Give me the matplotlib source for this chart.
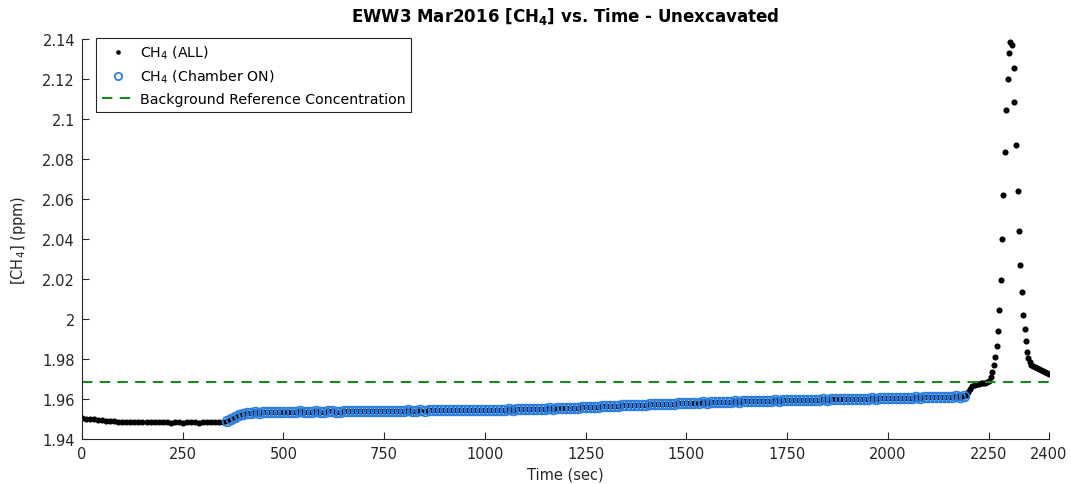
import matplotlib
matplotlib.use('Agg')
import matplotlib.pyplot as plt
import numpy as np

plt.rcParams['font.family'] = ['DejaVu Sans']
plt.rcParams['mathtext.fontset'] = 'dejavusans'
plt.rcParams['mathtext.default'] = 'regular'

# data
# before the chamber is switched on (every 10 s)
t_pre = np.arange(0, 360, 10)
ch4_pre = [1.9503, 1.9502, 1.9501, 1.9499, 1.9497, 1.9494, 1.9492, 1.9490, 1.9488, 1.9486,
           1.9485, 1.9484, 1.9486, 1.9487, 1.9485, 1.9484, 1.9485, 1.9484, 1.9483, 1.9484,
           1.9483, 1.9484, 1.9482, 1.9483, 1.9484, 1.9482, 1.9483, 1.9484, 1.9483, 1.9482,
           1.9483, 1.9484, 1.9483, 1.9485, 1.9484, 1.9486]

# chamber ON (every 10 s)
t_on = np.arange(360, 2200, 10)
ch4_on = [1.9490, 1.9500, 1.9510, 1.9518, 1.9524, 1.9528, 1.9530, 1.9533, 1.9532, 1.9534,
          1.9535, 1.9534, 1.9536, 1.9535, 1.9537, 1.9536, 1.9535, 1.9537, 1.9538, 1.9536,
          1.9535, 1.9537, 1.9538, 1.9536, 1.9537, 1.9539, 1.9538, 1.9536, 1.9537, 1.9538,
          1.9539, 1.9538, 1.9540, 1.9539, 1.9538, 1.9540, 1.9541, 1.9539, 1.9540, 1.9541,
          1.9540, 1.9542, 1.9541, 1.9540, 1.9542, 1.9543, 1.9541, 1.9542, 1.9543, 1.9542,
          1.9543, 1.9544, 1.9546, 1.9544, 1.9543, 1.9545, 1.9544, 1.9543, 1.9545, 1.9544,
          1.9545, 1.9544, 1.9546, 1.9545, 1.9544, 1.9546, 1.9547, 1.9545, 1.9546, 1.9547,
          1.9548, 1.9547, 1.9549, 1.9548, 1.9550, 1.9549, 1.9551, 1.9550, 1.9552, 1.9551,
          1.9553, 1.9552, 1.9554, 1.9555, 1.9554, 1.9556, 1.9557, 1.9556, 1.9558, 1.9559,
          1.9560, 1.9561, 1.9562, 1.9563, 1.9564, 1.9565, 1.9566, 1.9567, 1.9568, 1.9569,
          1.9570, 1.9569, 1.9571, 1.9572, 1.9571, 1.9573, 1.9574, 1.9573, 1.9575, 1.9576,
          1.9577, 1.9576, 1.9578, 1.9579, 1.9578, 1.9580, 1.9581, 1.9582, 1.9583, 1.9582,
          1.9584, 1.9585, 1.9584, 1.9586, 1.9587, 1.9586, 1.9588, 1.9587, 1.9589, 1.9588,
          1.9590, 1.9589, 1.9591, 1.9590, 1.9592, 1.9591, 1.9593, 1.9592, 1.9594, 1.9593,
          1.9594, 1.9595, 1.9594, 1.9596, 1.9595, 1.9597, 1.9596, 1.9597, 1.9598, 1.9597,
          1.9598, 1.9599, 1.9598, 1.9600, 1.9599, 1.9601, 1.9600, 1.9602, 1.9601, 1.9602,
          1.9603, 1.9602, 1.9604, 1.9603, 1.9605, 1.9604, 1.9606, 1.9605, 1.9607, 1.9606,
          1.9607, 1.9608, 1.9607, 1.9609, 1.9608, 1.9610, 1.9609, 1.9611, 1.9610, 1.9612,
          1.9611, 1.9613, 1.9612, 1.9614]

# after the chamber, rise and the spike
t_post = [2195, 2200, 2205, 2210, 2215, 2220, 2225, 2230, 2235, 2240, 2245, 2250,
          2256, 2259, 2263, 2265, 2270, 2274, 2276, 2280, 2282, 2286, 2290, 2293,
          2298, 2301, 2304, 2308, 2312, 2314, 2319, 2323, 2325, 2329, 2333, 2336,
          2340, 2342, 2346, 2349, 2352, 2356, 2360, 2365, 2370, 2375, 2380, 2385,
          2390, 2395, 2400]
ch4_post = [1.9620, 1.9635, 1.9652, 1.9665, 1.9671, 1.9674, 1.9676, 1.9678, 1.9679, 1.9681, 1.9684, 1.9690,
            1.9710, 1.9733, 1.9770, 1.9810, 1.9867, 1.9939, 2.0045, 2.0197, 2.0400, 2.0622, 2.0837, 2.1043,
            2.1202, 2.1330, 2.1387, 2.1370, 2.1255, 2.1085, 2.0868, 2.0640, 2.0438, 2.0270, 2.0137, 2.0020,
            1.9950, 1.9890, 1.9837, 1.9805, 1.9785, 1.9772, 1.9765, 1.9760, 1.9755, 1.9750, 1.9746, 1.9742,
            1.9737, 1.9732, 1.9726]

background = 1.9684

t_all = np.concatenate([t_pre, t_on, t_post])
ch4_all = np.concatenate([ch4_pre, ch4_on, ch4_post])

xticks = [0, 250, 500, 750, 1000, 1250, 1500, 1750, 2000, 2250, 2400]
yticks = [1.94, 1.96, 1.98, 2.0, 2.02, 2.04, 2.06, 2.08, 2.1, 2.12, 2.14]

fig = plt.figure(figsize=(10.71, 4.85), dpi=100)
ax = fig.add_axes([0.0766, 0.0928, 0.9029, 0.8247])

ax.plot(t_all, ch4_all, 'o', color='black', ms=4.4, mew=0, label='CH$_4$ (ALL)')
ax.plot(t_on, ch4_on, 'o', mfc='none', mec='#2a7fe0', ms=7, mew=1.3,
        label='CH$_4$ (Chamber ON)')
ax.axhline(background, color='#1a8a1a', ls=(0, (5, 3.5)), lw=1.5,
           label='Background Reference Concentration')

ax.set_xlim(0, 2400)
ax.set_ylim(1.94, 2.14)
ax.set_xticks(xticks)
ax.set_yticks(yticks)
ax.set_yticklabels(['%g' % v for v in yticks])

for s in ['top', 'right']:
    ax.spines[s].set_visible(False)
for s in ['left', 'bottom']:
    ax.spines[s].set_color('#262626')
    ax.spines[s].set_linewidth(0.8)
ax.tick_params(direction='in', length=5, width=0.8, colors='#262626',
               labelsize=10.5, labelcolor='#262626', pad=5)

ax.set_title('EWW3 Mar2016 [CH$_4$] vs. Time - Unexcavated',
             fontsize=12, fontweight='bold', pad=13)
ax.set_xlabel('Time (sec)', fontsize=10.5, color='#262626', labelpad=4)
ax.set_ylabel('[CH$_4$] (ppm)', fontsize=10.5, color='#262626', labelpad=10)

leg = ax.legend(loc='upper left', bbox_to_anchor=(0.0145, 1.003), borderaxespad=0,
                fontsize=10.2, fancybox=False, framealpha=1, edgecolor='#262626',
                handlelength=2.3, handletextpad=0.4, borderpad=0.4, labelspacing=0.5,
                markerscale=0.75)
leg.get_frame().set_linewidth(0.8)

fig.savefig('out.png', dpi=100)
